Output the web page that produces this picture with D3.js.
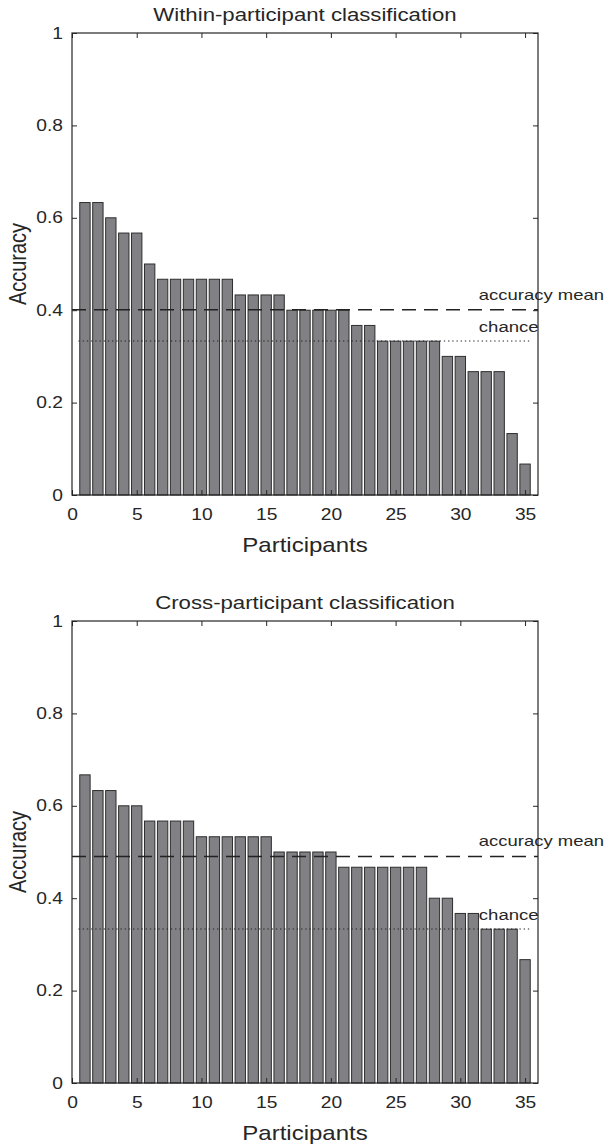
<!DOCTYPE html>
<html>
<head>
<meta charset="utf-8">
<script src="https://cdn.jsdelivr.net/npm/d3@7/dist/d3.min.js"></script>
<style>
  html, body { margin: 0; padding: 0; background: #fff; }
  svg { display: block; }
  text { font-family: "Liberation Sans", Arial, sans-serif; fill: #262626; }
</style>
</head>
<body>
<svg id="chart" width="608" height="1144"></svg>
<script>
// Per-participant accuracy, sorted high to low (35 participants)
const participants = d3.range(1, 36);
const withinAccuracy = [
  0.633, 0.633, 0.600, 0.567, 0.567, 0.500,
  0.467, 0.467, 0.467, 0.467, 0.467, 0.467,
  0.433, 0.433, 0.433, 0.433,
  0.400, 0.400, 0.400, 0.400, 0.400,
  0.367, 0.367,
  0.333, 0.333, 0.333, 0.333, 0.333,
  0.300, 0.300,
  0.267, 0.267, 0.267,
  0.133, 0.067
];
const crossAccuracy = [
  0.667, 0.633, 0.633, 0.600, 0.600,
  0.567, 0.567, 0.567, 0.567,
  0.533, 0.533, 0.533, 0.533, 0.533, 0.533,
  0.500, 0.500, 0.500, 0.500, 0.500,
  0.467, 0.467, 0.467, 0.467, 0.467, 0.467, 0.467,
  0.400, 0.400,
  0.367, 0.367,
  0.333, 0.333, 0.333,
  0.267
];
const chanceLevel = 1 / 3;
const panelTitles = ["Within-participant classification", "Cross-participant classification"];
const xTickValues = [0, 5, 10, 15, 20, 25, 30, 35];
const yTickValues = [0, 0.2, 0.4, 0.6, 0.8, 1];
const yTickLabels = ["0", "0.2", "0.4", "0.6", "0.8", "1"];
const xLabel = "Participants";
const yLabel = "Accuracy";
const meanLabel = "accuracy mean";
const chanceLabel = "chance";

const svg = d3.select("#chart");
const ink = "#262626";
const widen = 1.2;   // glyphs are drawn slightly wide

function label(parent, x, y, str, size, anchor, extra) {
  return parent.append("text")
    .attr("transform", `translate(${x},${y}) scale(${widen},1)${extra || ""}`)
    .attr("text-anchor", anchor || "start")
    .attr("font-size", size)
    .text(str);
}

function drawPanel(values, title, box) {
  const g = svg.append("g");
  const x = d3.scaleLinear().domain([0, 36]).range([box.left, box.right]);
  const y = d3.scaleLinear().domain([0, 1]).range([box.bottom, box.top]);
  const barHalf = 0.4;

  // bars
  g.append("g").selectAll("rect")
    .data(values)
    .join("rect")
    .attr("x", (d, i) => x(participants[i] - barHalf))
    .attr("width", (d, i) => x(participants[i] + barHalf) - x(participants[i] - barHalf))
    .attr("y", d => y(d))
    .attr("height", d => y(0) - y(d))
    .attr("fill", "#818185")
    .attr("stroke", "#2e2e2e")
    .attr("stroke-width", 1);

  // mean (dashed) and chance (dotted) reference lines
  const meanValue = d3.mean(values);
  g.append("line")
    .attr("x1", x(0)).attr("x2", x(36))
    .attr("y1", y(meanValue)).attr("y2", y(meanValue))
    .attr("stroke", "#222").attr("stroke-width", 1.5)
    .attr("stroke-dasharray", "14,8");
  g.append("line")
    .attr("x1", x(0.5)).attr("x2", x(35.5))
    .attr("y1", y(chanceLevel)).attr("y2", y(chanceLevel))
    .attr("stroke", "#222").attr("stroke-width", 1.2)
    .attr("stroke-dasharray", "1.3,2.9");

  label(g, x(31.5) - 1, y(meanValue) - 10, meanLabel, 15.4);
  label(g, x(31.5) - 1, y(chanceLevel) - 9, chanceLabel, 15.5);

  // axes with inward ticks on all four sides
  const styleAxis = sel => {
    sel.select(".domain").remove();
    sel.selectAll(".tick line").attr("stroke", ink);
    sel.selectAll(".tick text").attr("fill", ink)
      .style("font-family", '"Liberation Sans", Arial, sans-serif')
      .attr("font-size", 16);
  };
  g.append("g")
    .attr("transform", `translate(0,${box.bottom})`)
    .call(d3.axisBottom(x).tickValues(xTickValues).tickSizeInner(-5).tickSizeOuter(0).tickPadding(14))
    .call(styleAxis)
    .call(s => s.selectAll(".tick text").attr("transform", `scale(${widen},1)`));
  g.append("g")
    .attr("transform", `translate(0,${box.top})`)
    .call(d3.axisTop(x).tickValues(xTickValues).tickSizeInner(-5).tickSizeOuter(0).tickFormat(""))
    .call(styleAxis);
  g.append("g")
    .attr("transform", `translate(${box.left},0)`)
    .call(d3.axisLeft(y).tickValues(yTickValues).tickSizeInner(-5).tickSizeOuter(0).tickPadding(9)
      .tickFormat((d, i) => yTickLabels[i]))
    .call(styleAxis)
    .call(s => s.selectAll(".tick text").attr("transform", `scale(${widen},1)`)
      .attr("x", -9 / widen));
  g.append("g")
    .attr("transform", `translate(${box.right},0)`)
    .call(d3.axisRight(y).tickValues(yTickValues).tickSizeInner(-5).tickSizeOuter(0).tickFormat(""))
    .call(styleAxis);

  // frame
  g.append("rect")
    .attr("x", box.left).attr("y", box.top)
    .attr("width", box.right - box.left).attr("height", box.bottom - box.top)
    .attr("fill", "none").attr("stroke", ink).attr("stroke-width", 1.2);

  // title and axis labels
  label(g, (box.left + box.right) / 2, box.top - 12, title, 18.5, "middle");
  label(g, (box.left + box.right) / 2, box.bottom + 57, xLabel, 20, "middle");
  label(g, box.left - 46, (box.top + box.bottom) / 2, yLabel, 20, "middle", " rotate(-90)");
}

drawPanel(withinAccuracy, panelTitles[0], { left: 72, right: 538, top: 33, bottom: 495 });
drawPanel(crossAccuracy, panelTitles[1], { left: 72, right: 538, top: 621, bottom: 1083 });
</script>
</body>
</html>
